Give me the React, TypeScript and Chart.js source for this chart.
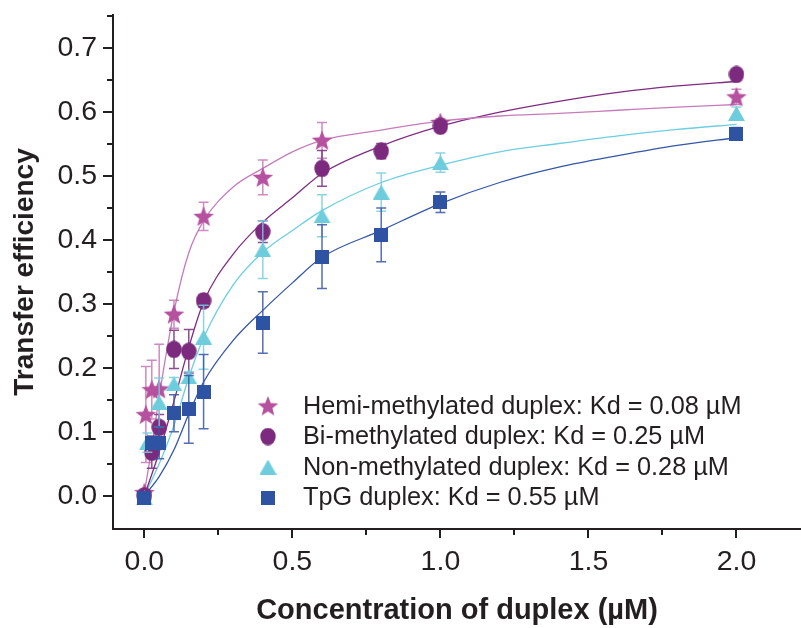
import React, { useEffect, useRef } from 'react';
import { Chart, registerables } from 'chart.js';

Chart.register(...registerables);

const FONT = '"Liberation Sans", Arial, Helvetica, sans-serif';
const INK = '#231f20';

// ---- measured points (concentration µM, transfer efficiency, error) ----
const HEMI_X = [0, 0.005, 0.025, 0.05, 0.1, 0.2, 0.4, 0.6, 1.0, 2.0];
const HEMI_Y = [0.005, 0.127, 0.166, 0.167, 0.284, 0.437, 0.498, 0.556, 0.584, 0.624];
const HEMI_E = [0.005, 0.075, 0.046, 0.07, 0.022, 0.022, 0.027, 0.028, 0.006, 0.012];

const BI_X = [0, 0.025, 0.05, 0.1, 0.15, 0.2, 0.4, 0.6, 0.8, 1.0, 2.0];
const BI_Y = [0.0, 0.068, 0.107, 0.229, 0.226, 0.305, 0.413, 0.512, 0.539, 0.578, 0.659];
const BI_E = [0.005, 0.025, 0.02, 0.03, 0.034, 0.01, 0.017, 0.028, 0.012, 0.008, 0.005];

const NON_X = [0, 0.01, 0.05, 0.1, 0.15, 0.2, 0.4, 0.6, 0.8, 1.0, 2.0];
const NON_Y = [-0.003, 0.083, 0.146, 0.175, 0.186, 0.248, 0.385, 0.438, 0.475, 0.521, 0.598];
const NON_E = [0.005, 0.015, 0.038, 0.01, 0.008, 0.05, 0.045, 0.033, 0.03, 0.015, 0.01];

const TPG_X = [0, 0.025, 0.05, 0.1, 0.15, 0.2, 0.4, 0.6, 0.8, 1.0, 2.0];
const TPG_Y = [-0.004, 0.083, 0.083, 0.129, 0.135, 0.163, 0.271, 0.374, 0.408, 0.459, 0.566];
const TPG_E = [0.005, 0.01, 0.025, 0.029, 0.053, 0.058, 0.048, 0.05, 0.042, 0.016, 0.01];

// ---- fitted curves ----
const HEMI_FIT_X = [0, 0.025, 0.05, 0.1, 0.15, 0.2, 0.3, 0.4, 0.5, 0.6, 0.8, 1.0, 1.2, 1.4, 1.6, 1.8, 2.0];
const HEMI_FIT_Y = [0.005, 0.075, 0.155, 0.288, 0.38, 0.43, 0.483, 0.512, 0.538, 0.556, 0.572, 0.586, 0.594, 0.598, 0.603, 0.608, 0.612];

const BI_FIT_X = [0, 0.05, 0.1, 0.15, 0.2, 0.3, 0.4, 0.5, 0.6, 0.8, 1.0, 1.2, 1.4, 1.6, 1.8, 2.0];
const BI_FIT_Y = [0, 0.068, 0.148, 0.232, 0.303, 0.378, 0.428, 0.466, 0.504, 0.547, 0.578, 0.6, 0.617, 0.631, 0.641, 0.648];

const NON_FIT_X = [0, 0.05, 0.1, 0.15, 0.2, 0.3, 0.4, 0.5, 0.6, 0.8, 1.0, 1.2, 1.4, 1.6, 1.8, 2.0];
const NON_FIT_Y = [0, 0.05, 0.11, 0.185, 0.247, 0.33, 0.381, 0.415, 0.446, 0.49, 0.517, 0.538, 0.551, 0.563, 0.573, 0.581];

const TPG_FIT_X = [0, 0.05, 0.1, 0.15, 0.2, 0.3, 0.4, 0.5, 0.6, 0.8, 1.0, 1.2, 1.4, 1.6, 1.8, 2.0];
const TPG_FIT_Y = [0, 0.03, 0.072, 0.128, 0.178, 0.243, 0.29, 0.333, 0.373, 0.415, 0.457, 0.49, 0.514, 0.532, 0.548, 0.56];

const SERIES_LABELS = [
  'Hemi-methylated duplex: Kd = 0.08 \u00b5M',
  'Bi-methylated duplex: Kd = 0.25 \u00b5M',
  'Non-methylated duplex: Kd = 0.28 \u00b5M',
  'TpG duplex: Kd = 0.55 \u00b5M',
];

const X_TICKS = [0, 0.5, 1.0, 1.5, 2.0];
const X_TICK_LABELS = ['0.0', '0.5', '1.0', '1.5', '2.0'];
const X_MINOR = [0.25, 0.75, 1.25, 1.75];
const Y_TICKS = [0, 0.1, 0.2, 0.3, 0.4, 0.5, 0.6, 0.7];
const Y_TICK_LABELS = ['0.0', '0.1', '0.2', '0.3', '0.4', '0.5', '0.6', '0.7'];
const Y_MINOR = [0.05, 0.15, 0.25, 0.35, 0.45, 0.55, 0.65, 0.75];

type Kind = 'star' | 'circle' | 'triangle' | 'square';

function makeMarker(kind: Kind, color: string): HTMLCanvasElement {
  const c = document.createElement('canvas');
  let w = 14, h = 14;
  if (kind === 'star') { w = 22; h = 21; }
  if (kind === 'circle') { w = 16; h = 18; }
  if (kind === 'triangle') { w = 17; h = 15; }
  c.width = w; c.height = h;
  const ctx = c.getContext('2d')!;
  ctx.fillStyle = color;
  ctx.beginPath();
  if (kind === 'star') {
    const cx = w / 2, cy = h / 2 + 0.8, R = 10.8, r = 4.6;
    for (let i = 0; i < 10; i++) {
      const a = -Math.PI / 2 + (i * Math.PI) / 5;
      const rr = i % 2 === 0 ? R : r;
      const px = cx + rr * Math.cos(a), py = cy + rr * Math.sin(a);
      if (i === 0) ctx.moveTo(px, py); else ctx.lineTo(px, py);
    }
    ctx.closePath();
  } else if (kind === 'circle') {
    ctx.ellipse(w / 2, h / 2, w / 2 - 0.3, h / 2 - 0.3, 0, 0, Math.PI * 2);
  } else if (kind === 'triangle') {
    ctx.moveTo(0, h); ctx.lineTo(w, h); ctx.lineTo(w / 2, 0); ctx.closePath();
  } else {
    ctx.rect(0, 0, w, h);
  }
  ctx.fill();
  return c;
}

export default function App() {
  const ref = useRef<HTMLCanvasElement>(null);

  useEffect(() => {
    if (!ref.current) return;
    const series = [
      { xs: HEMI_X, ys: HEMI_Y, es: HEMI_E, fx: HEMI_FIT_X, fy: HEMI_FIT_Y, kind: 'star' as Kind, color: '#b6519f', bar: 'rgba(190,100,170,0.75)', line: '#c67cbb' },
      { xs: BI_X, ys: BI_Y, es: BI_E, fx: BI_FIT_X, fy: BI_FIT_Y, kind: 'circle' as Kind, color: '#7b2a7d', bar: 'rgba(123,42,125,0.85)', line: '#7e2c80' },
      { xs: NON_X, ys: NON_Y, es: NON_E, fx: NON_FIT_X, fy: NON_FIT_Y, kind: 'triangle' as Kind, color: '#6dcddd', bar: 'rgba(120,205,222,0.85)', line: '#6ccfe0' },
      { xs: TPG_X, ys: TPG_Y, es: TPG_E, fx: TPG_FIT_X, fy: TPG_FIT_Y, kind: 'square' as Kind, color: '#2f53a3', bar: 'rgba(55,85,165,0.85)', line: '#3557a7' },
    ];
    const markers = series.map((s) => makeMarker(s.kind, s.color));
    const pts = (xs: number[], ys: number[]) => xs.map((x, i) => ({ x, y: ys[i] }));

    const datasets: any[] = [];
    series.forEach((s, i) => {
      datasets.push({
        label: 'fit' + i,
        data: pts(s.fx, s.fy),
        showLine: true,
        borderColor: s.line,
        borderWidth: 1.3,
        pointRadius: 0,
        cubicInterpolationMode: 'monotone',
        order: 20 + i,
      });
    });
    series.forEach((s, i) => {
      datasets.push({
        label: SERIES_LABELS[i],
        data: pts(s.xs, s.ys),
        showLine: false,
        pointStyle: markers[i],
        pointRadius: 8,
        backgroundColor: s.color,
        borderColor: s.color,
        order: 4 - i,
        errs: s.es,
        errColor: s.bar,
      });
    });

    const errorBars = {
      id: 'errorBars',
      beforeDatasetDraw(chart: any, args: any) {
        const ds = chart.data.datasets[args.index];
        if (!ds.errs) return;
        const { ctx, scales } = chart;
        ctx.save();
        ctx.strokeStyle = ds.errColor;
        ctx.lineWidth = 1.5;
        ds.data.forEach((p: any, k: number) => {
          const e = ds.errs[k];
          const px = scales.x.getPixelForValue(p.x);
          const t = scales.y.getPixelForValue(p.y + e);
          const b = scales.y.getPixelForValue(p.y - e);
          ctx.beginPath();
          ctx.moveTo(px, t); ctx.lineTo(px, b);
          ctx.moveTo(px - 5, t); ctx.lineTo(px + 5, t);
          ctx.moveTo(px - 5, b); ctx.lineTo(px + 5, b);
          ctx.stroke();
        });
        ctx.restore();
      },
    };

    const axisTicks = {
      id: 'axisTicks',
      afterDraw(chart: any) {
        const { ctx, scales, chartArea } = chart;
        ctx.save();
        ctx.strokeStyle = INK;
        ctx.lineWidth = 2;
        const yb = chartArea.bottom;
        const xl = chartArea.left;
        ctx.beginPath();
        X_TICKS.forEach((v) => { const p = Math.round(scales.x.getPixelForValue(v)); ctx.moveTo(p, yb); ctx.lineTo(p, yb + 9); });
        X_MINOR.forEach((v) => { const p = Math.round(scales.x.getPixelForValue(v)); ctx.moveTo(p, yb); ctx.lineTo(p, yb + 6); });
        Y_TICKS.forEach((v) => { const p = Math.round(scales.y.getPixelForValue(v)); ctx.moveTo(xl, p); ctx.lineTo(xl - 10, p); });
        Y_MINOR.forEach((v) => { const p = Math.round(scales.y.getPixelForValue(v)); ctx.moveTo(xl, p); ctx.lineTo(xl - 6, p); });
        ctx.stroke();

        // legend
        const lx = chartArea.left + 155;
        const ly = chartArea.top + 391;
        ctx.font = `25.3px ${FONT}`;
        ctx.fillStyle = INK;
        ctx.textBaseline = 'middle';
        ctx.textAlign = 'left';
        SERIES_LABELS.forEach((lab, i) => {
          const y = ly + i * 30.5;
          const m = markers[i];
          ctx.drawImage(m, lx - m.width / 2, y - m.height / 2);
          ctx.fillText(lab, lx + 35, y + 1);
        });
        ctx.restore();
      },
    };

    const chart = new Chart(ref.current, {
      type: 'scatter',
      data: { datasets },
      plugins: [errorBars, axisTicks],
      options: {
        animation: false,
        responsive: false,
        maintainAspectRatio: false,
        clip: false,
        layout: { autoPadding: false, padding: { top: 15, right: 0, left: 0, bottom: 0 } },
        plugins: { legend: { display: false }, tooltip: { enabled: false } },
        scales: {
          x: {
            type: 'linear',
            min: -0.106,
            max: 2.218,
            afterBuildTicks: (s: any) => { s.ticks = X_TICKS.map((v) => ({ value: v })); },
            afterFit: (s: any) => { s.height = 99; s.paddingLeft = 0; s.paddingRight = 0; },
            ticks: {
              callback: (v: any) => X_TICK_LABELS[X_TICKS.indexOf(Number(v))] ?? '',
              font: { size: 28.5, family: FONT },
              color: INK,
              padding: 7,
              maxRotation: 0,
              autoSkip: false,
            },
            grid: { display: true, drawOnChartArea: false, drawTicks: true, tickLength: 9, color: 'rgba(0,0,0,0)' },
            border: { display: true, color: INK, width: 2 },
            title: {
              display: true,
              text: 'Concentration of duplex (\u00b5M)',
              font: { size: 29, weight: 'bold', family: FONT },
              color: INK,
              padding: { top: 0, bottom: 0 },
            },
          },
          y: {
            type: 'linear',
            min: -0.052,
            max: 0.752,
            afterBuildTicks: (s: any) => { s.ticks = Y_TICKS.map((v) => ({ value: v })); },
            afterFit: (s: any) => { s.width = 113; s.paddingTop = 0; s.paddingBottom = 0; },
            ticks: {
              callback: (v: any) => Y_TICK_LABELS[Y_TICKS.findIndex((t) => Math.abs(t - Number(v)) < 1e-6)] ?? '',
              font: { size: 28.5, family: FONT },
              color: INK,
              padding: 6,
              autoSkip: false,
            },
            grid: { display: true, drawOnChartArea: false, drawTicks: true, tickLength: 10, color: 'rgba(0,0,0,0)' },
            border: { display: true, color: INK, width: 2 },
            title: {
              display: true,
              text: 'Transfer efficiency',
              font: { size: 28, weight: 'bold', family: FONT },
              color: INK,
              padding: { top: 8, bottom: 0 },
            },
          },
        },
      } as any,
    });
    return () => chart.destroy();
  }, []);

  return (
    <div style={{ position: 'absolute', left: 0, top: 0, width: 801, height: 628, background: '#fff' }}>
      <canvas ref={ref} width={801} height={628} style={{ display: 'block', width: 801, height: 628 }} />
    </div>
  );
}
